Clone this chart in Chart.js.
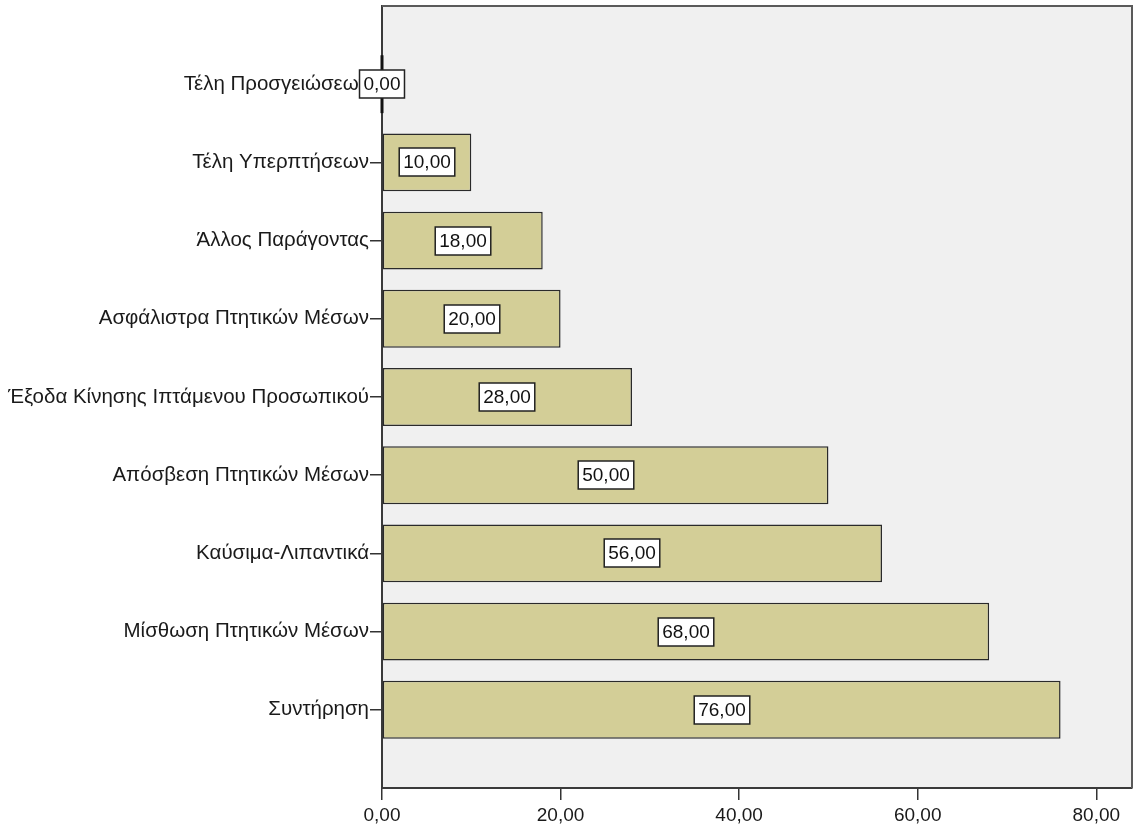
<!DOCTYPE html>
<html>
<head>
<meta charset="utf-8">
<script src="https://cdn.jsdelivr.net/npm/chart.js@4"></script>
<style>
  html, body { margin: 0; padding: 0; background: #fff; }
  #wrap { width: 1134px; height: 827px; position: relative; }
</style>
</head>
<body>
<div id="wrap"><canvas id="chartCanvas"></canvas></div>
<script>
const categories = [
  'Τέλη Προσγειώσεων',
  'Τέλη Υπερπτήσεων',
  'Άλλος Παράγοντας',
  'Ασφάλιστρα Πτητικών Μέσων',
  'Έξοδα Κίνησης Ιπτάμενου Προσωπικού',
  'Απόσβεση Πτητικών Μέσων',
  'Καύσιμα-Λιπαντικά',
  'Μίσθωση Πτητικών Μέσων',
  'Συντήρηση'
];
const values = [0, 10, 18, 20, 28, 50, 56, 68, 76];
const xTicks = [0, 20, 40, 60, 80];
const xMax = 84;

const FONT = "'Liberation Sans', Arial, sans-serif";
const fmt = v => v.toFixed(2).replace('.', ',');

// une catégorie vide de chaque côté pour laisser un pas complet en haut et en bas
const labels = ['', ...categories, ''];
const data = [null, ...values, null];
const lastIdx = labels.length - 1;

const plotBg = {
  id: 'plotBg',
  beforeDraw(chart) {
    const { ctx, chartArea: a } = chart;
    ctx.save();
    ctx.fillStyle = '#f0f0f0';
    ctx.fillRect(a.left, a.top, a.right - a.left, a.bottom - a.top);
    ctx.restore();
  },
  afterDraw(chart) {
    const { ctx, chartArea: a } = chart;
    ctx.save();
    // cadre haut / droite
    ctx.strokeStyle = '#5a5a5a';
    ctx.lineWidth = 2;
    ctx.beginPath();
    ctx.moveTo(a.left, a.top);
    ctx.lineTo(a.right, a.top);
    ctx.lineTo(a.right, a.bottom);
    ctx.stroke();
    ctx.restore();
  }
};

const valueBoxes = {
  id: 'valueBoxes',
  afterDraw(chart) {
    const { ctx } = chart;
    const meta = chart.getDatasetMeta(0);
    ctx.save();
    ctx.font = '19px ' + FONT;
    ctx.textAlign = 'center';
    ctx.textBaseline = 'middle';
    meta.data.forEach((el, i) => {
      const v = data[i];
      if (v === null || v === undefined) return;
      const p = el.getProps(['x', 'y', 'base', 'height'], true);
      if (v === 0) {
        // barre de largeur nulle : trait noir sur l'axe
        ctx.strokeStyle = '#111';
        ctx.lineWidth = 3;
        ctx.beginPath();
        ctx.moveTo(p.base, p.y - p.height / 2);
        ctx.lineTo(p.base, p.y + p.height / 2);
        ctx.stroke();
      }
      const txt = fmt(v);
      const w = ctx.measureText(txt).width + 8;
      const h = 28;
      const cx = Math.round((p.x + p.base) / 2);
      const cy = Math.round(p.y);
      ctx.fillStyle = '#fff';
      ctx.fillRect(cx - w / 2, cy - h / 2, w, h);
      ctx.strokeStyle = '#222';
      ctx.lineWidth = 1.5;
      ctx.strokeRect(cx - w / 2, cy - h / 2, w, h);
      ctx.fillStyle = '#111';
      ctx.fillText(txt, cx, cy + 1);
    });
    ctx.restore();
  }
};

new Chart(document.getElementById('chartCanvas'), {
  type: 'bar',
  data: {
    labels,
    datasets: [{
      data,
      backgroundColor: '#d3ce97',
      borderColor: '#2a2a2a',
      borderWidth: 1.5,
      borderSkipped: false,
      barPercentage: 0.74,
      categoryPercentage: 1
    }]
  },
  options: {
    indexAxis: 'y',
    responsive: true,
    maintainAspectRatio: false,
    animation: false,
    layout: { padding: { top: 6, right: 2, bottom: 0, left: 0 } },
    plugins: {
      legend: { display: false },
      tooltip: { enabled: false }
    },
    scales: {
      x: {
        type: 'linear',
        min: 0,
        max: xMax,
        afterBuildTicks: s => { s.ticks = xTicks.map(v => ({ value: v })); },
        afterFit: s => { s.height = 39; },
        grid: { drawOnChartArea: false, drawTicks: true, tickLength: 12, color: '#333', lineWidth: 1.5 },
        border: { display: true, color: '#3a3a3a', width: 2 },
        ticks: {
          padding: 4,
          color: '#1a1a1a',
          font: { family: FONT, size: 19 },
          callback: v => fmt(v)
        }
      },
      y: {
        type: 'category',
        offset: false,
        afterFit: s => { s.width = 382; s.paddingTop = 0; s.paddingBottom = 0; },
        grid: {
          offset: false,
          drawOnChartArea: false,
          drawTicks: true,
          tickLength: 12,
          lineWidth: 1.5,
          color: c => (c.index === 0 || c.index === lastIdx) ? 'rgba(0,0,0,0)' : '#333'
        },
        border: { display: true, color: '#3a3a3a', width: 2 },
        ticks: {
          padding: 1,
          color: '#1a1a1a',
          autoSkip: false,
          font: { family: FONT, size: 20.5 }
        }
      }
    }
  },
  plugins: [plotBg, valueBoxes]
});
</script>
</body>
</html>
